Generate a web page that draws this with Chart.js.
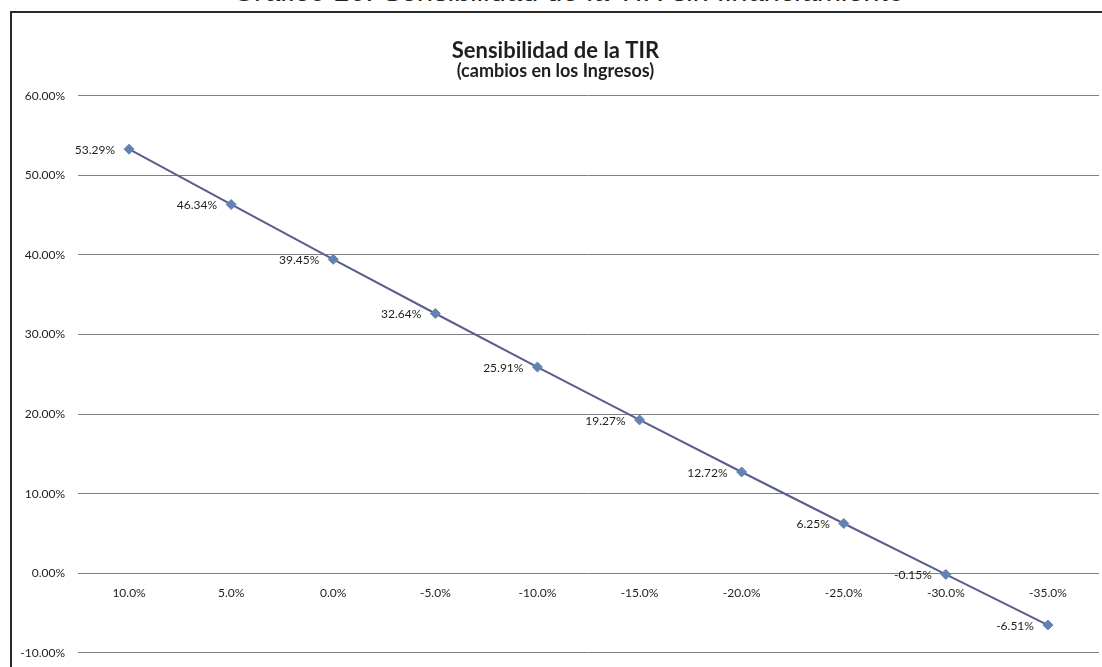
<!DOCTYPE html>
<html lang="es">
<head>
<meta charset="utf-8">
<title>Sensibilidad de la TIR</title>
<script src="https://cdn.jsdelivr.net/npm/chart.js@4.4.1/dist/chart.umd.min.js"></script>
<style>
  html,body{margin:0;padding:0;background:#fff;overflow:hidden;width:1102px;height:667px;}
  .caption{position:absolute;left:233px;top:-23px;font-family:"Liberation Sans",Arial,sans-serif;font-style:italic;font-size:29px;line-height:29px;color:#222;white-space:nowrap;}
  .frame{position:absolute;left:10px;top:11px;width:1112px;height:660px;border-top:2px solid #2a2a2a;border-left:2px solid #2a2a2a;}
  .frame canvas{display:block;}
</style>
</head>
<body>
<div class="caption">Gráfico 10: Sensibilidad de la TIR sin financiamiento</div>
<div class="frame"><canvas id="chartTir" width="1112" height="660"></canvas></div>
<script>
const CAMBIOS = ["10.0%","5.0%","0.0%","-5.0%","-10.0%","-15.0%","-20.0%","-25.0%","-30.0%","-35.0%"];
const TIR = [53.29,46.34,39.45,32.64,25.91,19.27,12.72,6.25,-0.15,-6.51];
const Y_MIN = -10;
const Y_MAX = 60;
const Y_STEP = 10;

const LINE_COLOR = "#5a5e8e";
const MARKER_COLOR = "#6282b6";
const GRID_COLOR = "#808080";
const TEXT_COLOR = "#1e1e1e";

Chart.defaults.font.family = "Lato";
Chart.defaults.color = TEXT_COLOR;

/* etiquetas de valor a la izquierda de cada punto */
const valueLabels = {
  id:"valueLabels",
  afterDatasetsDraw(chart){
    const ctx = chart.ctx;
    const meta = chart.getDatasetMeta(0);
    const values = chart.data.datasets[0].data;
    ctx.save();
    ctx.font = "12px Lato";
    ctx.fillStyle = TEXT_COLOR;
    ctx.textAlign = "right";
    ctx.textBaseline = "middle";
    meta.data.forEach((pt,i)=>{
      ctx.fillText(values[i].toFixed(2)+"%", pt.x-14, pt.y+1);
    });
    ctx.restore();
  }
};

new Chart(document.getElementById("chartTir"),{
  type:"line",
  data:{
    labels:CAMBIOS,
    datasets:[{
      data:TIR,
      borderColor:LINE_COLOR,
      borderWidth:2,
      tension:0,
      pointStyle:"rectRot",
      pointRadius:5,
      pointBackgroundColor:MARKER_COLOR,
      pointBorderColor:MARKER_COLOR,
      pointBorderWidth:1
    }]
  },
  options:{
    responsive:false,
    animation:false,
    devicePixelRatio:1,
    layout:{padding:{left:0,right:25,top:0,bottom:9}},
    plugins:{
      legend:{display:false},
      tooltip:{enabled:false},
      title:{
        display:true,
        text:"Sensibilidad de la TIR",
        color:TEXT_COLOR,
        font:{size:22,weight:"bold",lineHeight:0.9},
        padding:{top:28,bottom:1}
      },
      subtitle:{
        display:true,
        text:"(cambios en los Ingresos)",
        color:TEXT_COLOR,
        font:{size:18,weight:"bold",lineHeight:1},
        padding:{top:0,bottom:16}
      }
    },
    scales:{
      x:{
        position:{y:0},
        offset:true,
        grid:{display:false,drawTicks:false},
        border:{display:false},
        ticks:{autoSkip:false,maxRotation:0,padding:13,font:{size:12},color:TEXT_COLOR},
        afterFit(scale){ scale.height = 0; }
      },
      y:{
        min:Y_MIN,
        max:Y_MAX,
        grid:{color:GRID_COLOR,lineWidth:1,drawTicks:false},
        border:{display:false},
        ticks:{
          stepSize:Y_STEP,
          padding:13,
          font:{size:12},
          color:TEXT_COLOR,
          callback:v=>v.toFixed(2)+"%"
        },
        afterFit(scale){ scale.width = 66; }
      }
    }
  },
  plugins:[valueLabels]
});
</script>
</body>
</html>
